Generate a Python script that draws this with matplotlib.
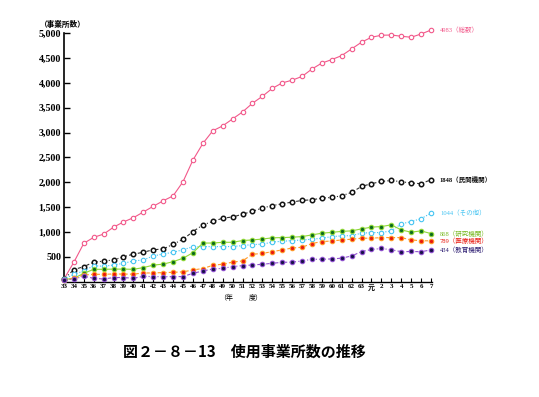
"""
使用事業所数の推移 (図2-8-13) を描く
"""

import matplotlib
matplotlib.use("Agg")
import matplotlib.pyplot as plt
import matplotlib.transforms as mtransforms

# --- data ---
years = ["33", "34", "35", "36", "37", "38", "39", "40", "41", "42",
         "43", "44", "45", "46", "47", "48", "49", "50", "51", "52",
         "53", "54", "55", "56", "57", "58", "59", "60", "61", "62",
         "63", "元", "2", "3", "4", "5", "6", "7"]

total = [50, 390, 770, 890, 955, 1095, 1200, 1285, 1400, 1515,
         1625, 1725, 2010, 2445, 2780, 3035, 3135, 3275, 3415, 3590,
         3730, 3890, 4000, 4055, 4130, 4280, 4400, 4470, 4550, 4685,
         4820, 4920, 4960, 4965, 4940, 4920, 4985, 5065]
private = [50, 240, 300, 390, 410, 435, 500, 550, 590, 640,
           655, 750, 850, 1005, 1140, 1210, 1275, 1300, 1355, 1415,
           1480, 1530, 1565, 1600, 1633, 1646, 1680, 1693, 1727, 1795,
           1915, 1970, 2015, 2035, 2010, 1985, 1970, 2050]
other = [50, 145, 212, 320, 306, 333, 367, 414, 434, 515,
         555, 589, 640, 700, 703, 703, 703, 705, 723, 745,
         751, 795, 810, 825, 835, 852, 872, 905, 919, 925,
         973, 986, 986, 1020, 1160, 1208, 1265, 1377]
research = [40, 65, 165, 246, 246, 250, 250, 246, 280, 330,
            350, 400, 468, 580, 775, 775, 790, 790, 825, 838,
            855, 880, 885, 892, 905, 939, 973, 990, 1010, 1020,
            1060, 1095, 1107, 1141, 1040, 993, 1020, 965]
medical = [30, 65, 131, 145, 145, 152, 150, 148, 172, 172,
           180, 185, 195, 232, 262, 325, 350, 390, 415, 549,
           565, 602, 636, 675, 690, 765, 805, 815, 838, 852,
           872, 872, 885, 885, 885, 838, 820, 820]
education = [30, 50, 105, 65, 50, 80, 80, 65, 105, 98,
             98, 98, 100, 165, 212, 252, 266, 300, 320, 333,
             347, 367, 387, 390, 414, 448, 448, 455, 470, 515,
             602, 645, 665, 640, 600, 605, 600, 636]

end_labels = ["4983（総数）", "1848（民間機関）", "1044（その他）",
              "868（研究機関）", "789（医療機関）", "434（教育機関）"]
yticks = [500, 1000, 1500, 2000, 2500, 3000, 3500, 4000, 4500, 5000]

serif_jp = ["Liberation Serif", "Noto Sans CJK JP"]
plt.rcParams["font.family"] = serif_jp

fig = plt.figure(figsize=(5.39, 3.97), dpi=100)
ax = fig.add_axes([0.1187, 0.2909, 0.6827, 0.6378])

x = list(range(len(years)))

# (values, line colour, linestyle, marker face, marker edge, label colour, bold)
series = [
    (total, "#f2588a", "-", "white", "#f2588a", "#f2588a", False),
    (private, "#303030", (0, (3, 2, 1, 2)), "white", "#111111", "#111111", True),
    (other, "#45c4f2", (0, (1, 1.5)), "white", "#45c4f2", "#45c4f2", False),
    (research, "#90d838", "-", "#0a6a1c", "#90d838", "#78b820", False),
    (medical, "#ff9a28", (0, (3, 2)), "#e8180e", "#ff9a28", "#e8180e", False),
    (education, "#9050d0", (0, (3, 2, 1, 2)), "#181048", "#9050d0", "#2a1a70", False),
]

for (vals, lc, ls, mfc, mec, tc, bold), lab in zip(series, end_labels):
    ax.plot(x, vals, color=lc, linestyle=ls, linewidth=0.8,
            marker="o", markersize=3.2, markerfacecolor=mfc,
            markeredgecolor=mec, markeredgewidth=1.1 if bold else 0.8,
            clip_on=False, zorder=3)
    ax.text(x[-1] + 0.9, vals[-1], lab, color=tc, fontsize=4.7,
            fontweight="bold" if bold else "normal",
            va="center", ha="left", family=serif_jp)

ax.set_xlim(0, 37.1)
ax.set_ylim(0, 5100)
ax.spines["top"].set_visible(False)
ax.spines["right"].set_visible(False)
ax.spines["left"].set_bounds(0, 5000)
ax.spines["left"].set_linewidth(1.2)
ax.spines["bottom"].set_linewidth(1.0)

ax.set_xticks(x)
ax.set_xticklabels(years, fontsize=5, fontweight="bold")
ax.set_yticks(yticks)
ax.set_yticklabels([f"{v:,}" for v in yticks], fontsize=7.2, fontweight="bold")
ax.tick_params(axis="x", direction="in", length=3, width=0.8, pad=2)
ax.tick_params(axis="y", direction="in", length=4.5, width=1.0, pad=2)

# 単位・年度
fig.text(40 / 539, 1 - 25 / 397, "（事業所数）", fontsize=5.5, fontweight="bold",
         ha="left", va="center", family=serif_jp)
trans = mtransforms.blended_transform_factory(ax.transData, fig.transFigure)
fig.text(16.3, 1 - 297 / 397, "（年", fontsize=5, ha="center", va="center",
         transform=trans)
fig.text(19.3, 1 - 297 / 397, "度）", fontsize=5, ha="center", va="center",
         transform=trans)

fig.text(0.4536, 1 - 352 / 397, "図２－８－13　使用事業所数の推移",
         fontsize=10.8, fontweight="bold", ha="center", va="center",
         family=["Noto Sans CJK JP", "DejaVu Sans"])

fig.savefig("out.png", dpi=100)
